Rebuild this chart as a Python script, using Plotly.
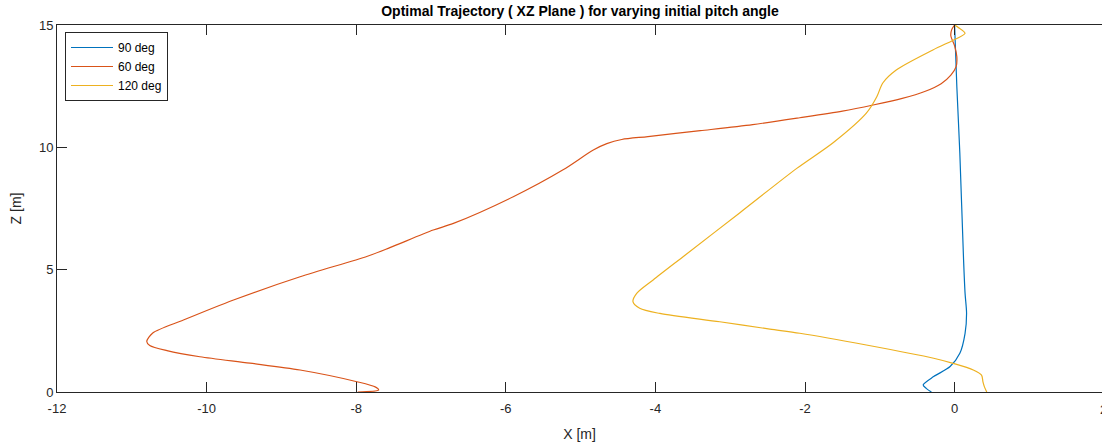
import plotly.graph_objects as go

# Trajectories in the XZ plane, ordered from launch (z = 0) to the goal (z = 15)
x_90 = [-0.31, -0.38, -0.42, -0.28, -0.06, 0.07, 0.14, 0.16, 0.14, 0.12, 0.07, 0.03, 0.0]
z_90 = [0.0, 0.15, 0.29, 0.63, 1.04, 1.58, 2.40, 3.21, 4.03, 5.39, 9.75, 12.48, 15.0]

x_60 = [-7.98, -7.70, -7.74, -7.99, -8.75, -9.42, -10.09, -10.53, -10.76, -10.80, -10.72,
        -10.31, -9.64, -8.75, -7.85, -7.55, -6.97, -6.70, -5.90, -5.24, -4.83, -4.65,
        -4.45, -4.10, -3.40, -2.70, -2.07, -1.50, -1.09, -0.70, -0.40, -0.18, -0.05,
        0.02, 0.03, 0.0, -0.05, -0.04, 0.0]
z_60 = [0.0, 0.08, 0.2, 0.42, 0.9, 1.18, 1.44, 1.69, 1.90, 2.06, 2.41,
        2.94, 3.76, 4.71, 5.55, 5.90, 6.62, 6.89, 7.98, 9.07, 9.89, 10.15,
        10.32, 10.44, 10.68, 10.93, 11.21, 11.48, 11.73, 12.0, 12.28, 12.60, 12.95,
        13.3, 13.7, 14.15, 14.55, 14.8, 15.0]

x_120 = [0.43, 0.40, 0.38, 0.36, 0.25, -0.02, -0.28, -1.18, -2.07, -2.47, -3.14, -3.94,
         -4.21, -4.30, -4.25, -4.03, -3.60, -2.87, -2.11, -1.62, -1.18, -1.04,
         -0.96, -0.78, -0.29, 0.03, 0.14, 0.05, 0.0]
z_120 = [0.0, 0.2, 0.4, 0.69, 0.9, 1.17, 1.38, 1.92, 2.40, 2.57, 2.87, 3.21,
         3.42, 3.69, 4.03, 4.58, 5.60, 7.33, 9.14, 10.2, 11.4, 12.07,
         12.63, 13.16, 13.98, 14.45, 14.66, 14.9, 15.0]

series = [
    ("90 deg", x_90, z_90, "#0072BD"),
    ("60 deg", x_60, z_60, "#D95319"),
    ("120 deg", x_120, z_120, "#EDB120"),
]

x_ticks = [-12, -10, -8, -6, -4, -2, 0, 2]
z_ticks = [0, 5, 10, 15]

FONT = "Liberation Sans, Arial, Helvetica, sans-serif"
AX = "#262626"

fig = go.Figure()
for name, xs, zs, col in series:
    fig.add_trace(go.Scatter(
        x=xs, y=zs, mode="lines", name=name,
        line=dict(color=col, width=1.2, shape="spline", smoothing=0.8),
    ))

fig.update_layout(
    width=1102, height=446,
    margin=dict(l=57, r=0, t=25, b=54),
    paper_bgcolor="white", plot_bgcolor="white",
    font=dict(family=FONT, size=13, color=AX),
    title=dict(
        text="<b>Optimal Trajectory ( XZ Plane ) for varying initial pitch angle</b>",
        x=(580 / 1102), xanchor="center", y=1 - 11 / 446, yanchor="middle",
        font=dict(family=FONT, size=14, color="#000000"),
    ),
    showlegend=True,
    legend=dict(
        x=8 / 1045, y=1 - 7 / 367, xanchor="left", yanchor="top",
        bgcolor="white", bordercolor=AX, borderwidth=1,
        font=dict(family=FONT, size=12, color="#000000"),
        tracegroupgap=0, itemwidth=42,
    ),
)

fig.update_xaxes(
    range=[-12, -12 + 1045 / 74.8],
    tickvals=x_ticks, ticktext=[str(v) for v in x_ticks],
    ticks="inside", ticklen=10, tickcolor=AX, tickwidth=1,
    ticklabelstandoff=4,
    showline=True, linecolor=AX, linewidth=1, mirror="ticks",
    showgrid=False, zeroline=False,
    title=dict(text="X [m]", font=dict(family=FONT, size=14, color=AX), standoff=14),
    tickfont=dict(family=FONT, size=13, color=AX),
)
fig.update_yaxes(
    range=[0, 15],
    tickvals=z_ticks, ticktext=[str(v) for v in z_ticks],
    ticks="inside", ticklen=10, tickcolor=AX, tickwidth=1,
    showline=True, linecolor=AX, linewidth=1, mirror=False,
    showgrid=False, zeroline=False,
    title=dict(text="Z [m]", font=dict(family=FONT, size=14, color=AX), standoff=14),
    tickfont=dict(family=FONT, size=13, color=AX),
)

# The last x tick (2) sits on the right edge of the axes, partly outside the page
fig.add_annotation(
    x=1.0, y=0, xref="paper", yref="paper", text="2", showarrow=False,
    xanchor="left", yanchor="top", yshift=-8, xshift=-4,
    font=dict(family=FONT, size=13, color=AX),
)

fig.write_html("out.html")
